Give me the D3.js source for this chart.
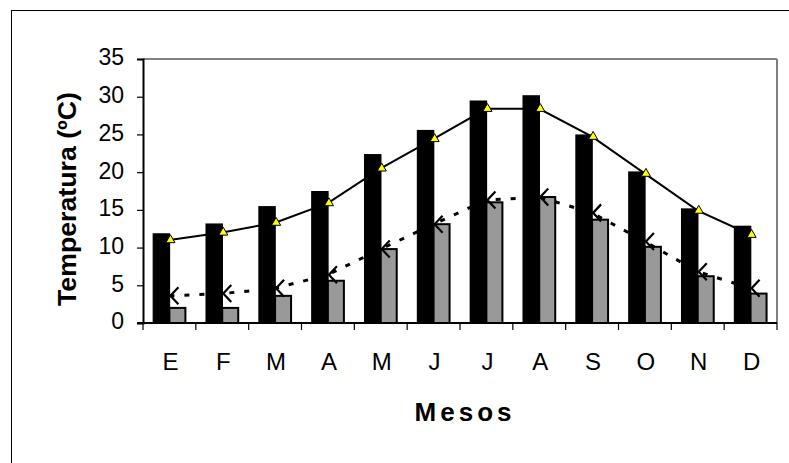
<!DOCTYPE html>
<html>
<head>
<meta charset="utf-8">
<script src="https://cdn.jsdelivr.net/npm/d3@7"></script>
<style>
	body { margin: 0; background: #fff; }
	text { font-family: "Liberation Sans", Arial, sans-serif; fill: #000; }
</style>
</head>
<body>
<svg id="chart" width="789" height="463"></svg>
<script>
// month initials (catalan)
var months = ['E','F','M','A','M','J','J','A','S','O','N','D'];
// bar series
var barMax = [11.8, 13.1, 15.4, 17.4, 22.3, 25.5, 29.4, 30.1, 24.9, 20.0, 15.1, 12.8];
var barMin = [2.0, 2.0, 3.6, 5.6, 9.8, 13.1, 16.0, 16.7, 13.7, 10.1, 6.2, 3.9];
// line series
var lineMax = [11.0, 12.0, 13.3, 15.9, 20.5, 24.4, 28.4, 28.4, 24.7, 19.8, 14.9, 11.7];
var lineMin = [3.6, 3.9, 4.6, 6.4, 9.8, 13.1, 16.3, 16.7, 14.6, 10.8, 6.8, 4.6];
var yTicks = [0, 5, 10, 15, 20, 25, 30, 35];

var svg = d3.select('#chart');
var pLeft = 143, pRight = 777, pTop = 59, pBottom = 323;

// outer frame
svg.append('rect').attr('x', 11.5).attr('y', 10.5).attr('width', 900).attr('height', 600)
	.attr('fill', 'none').attr('stroke', '#000').attr('stroke-width', 1);

var idx = d3.range(months.length);
var x = d3.scaleBand().domain(idx).range([pLeft, pRight]);
var xs = d3.scaleBand().domain(['max', 'min']).range([10.4, 42.4]);
var y = d3.scaleLinear().domain([0, 35]).range([pBottom, pTop]);

// plot area border (grey top and right)
svg.append('line').attr('x1', pLeft).attr('x2', pRight).attr('y1', pTop).attr('y2', pTop)
	.attr('stroke', '#808080').attr('stroke-width', 2);
svg.append('line').attr('x1', pRight).attr('x2', pRight).attr('y1', pTop).attr('y2', pBottom)
	.attr('stroke', '#808080').attr('stroke-width', 2);

// bars
svg.selectAll('rect.max').data(idx).enter().append('rect').attr('class', 'max')
	.attr('x', i => x(i) + xs('max')).attr('width', xs.bandwidth())
	.attr('y', i => y(barMax[i])).attr('height', i => y(0) - y(barMax[i]))
	.attr('fill', '#000').attr('stroke', '#000').attr('stroke-width', 1.5);
svg.selectAll('rect.min').data(idx).enter().append('rect').attr('class', 'min')
	.attr('x', i => x(i) + xs('min')).attr('width', xs.bandwidth())
	.attr('y', i => y(barMin[i])).attr('height', i => y(0) - y(barMin[i]))
	.attr('fill', '#999999').attr('stroke', '#000').attr('stroke-width', 2);

// axes
var yAxis = d3.axisLeft(y).tickValues(yTicks).tickSize(6).tickPadding(13);
var gy = svg.append('g').attr('transform', 'translate(' + pLeft + ',0)').call(yAxis);
gy.select('.domain').attr('stroke', '#000').attr('stroke-width', 2);
gy.selectAll('.tick line').attr('stroke', '#000').attr('stroke-width', 1.2);
gy.selectAll('.tick text').attr('font-size', 23).attr('dy', '0.26em')
	.style('font-family', '"Liberation Sans", Arial, sans-serif');

var gx = svg.append('g').attr('transform', 'translate(0,' + pBottom + ')');
gx.append('line').attr('x1', pLeft - 6).attr('x2', pRight).attr('y1', 0).attr('y2', 0)
	.attr('stroke', '#000').attr('stroke-width', 2);
gx.selectAll('line.tk').data(d3.range(months.length + 1)).enter().append('line').attr('class', 'tk')
	.attr('x1', i => pLeft + i * x.step()).attr('x2', i => pLeft + i * x.step())
	.attr('y1', 0).attr('y2', 7).attr('stroke', '#000').attr('stroke-width', 1.2);
gx.selectAll('text').data(idx).enter().append('text')
	.attr('x', i => x(i) + x.bandwidth() / 2 + 1).attr('y', 47)
	.attr('text-anchor', 'middle').attr('font-size', 24).text(i => months[i]);

// solid line with yellow triangles
var cx = i => x(i) + x.bandwidth() / 2;
var line1 = d3.line().x(cx).y(i => y(lineMax[i]));
svg.append('path').attr('d', line1(idx)).attr('fill', 'none').attr('stroke', '#000').attr('stroke-width', 2);
var tri = d3.symbol().type(d3.symbolTriangle).size(36);
svg.selectAll('path.tri').data(idx).enter().append('path').attr('class', 'tri')
	.attr('d', tri).attr('transform', i => 'translate(' + (cx(i) + 1) + ',' + y(lineMax[i]) + ')')
	.attr('fill', '#ffff00').attr('stroke', '#000').attr('stroke-width', 1);

// dotted line with < markers
var line2 = d3.line().x(cx).y(i => y(lineMin[i]));
svg.append('path').attr('d', line2(idx)).attr('fill', 'none').attr('stroke', '#000')
	.attr('stroke-width', 3).attr('stroke-dasharray', '5,10');
svg.selectAll('path.mk').data(idx).enter().append('path').attr('class', 'mk')
	.attr('d', 'M8,-8.5L0,0L8,8.5')
	.attr('transform', i => 'translate(' + (cx(i) + 1) + ',' + y(lineMin[i]) + ')')
	.attr('fill', 'none').attr('stroke', '#000').attr('stroke-width', 2.2);

// axis titles
svg.append('text').attr('transform', 'translate(76,199) rotate(-90)')
	.attr('text-anchor', 'middle').attr('font-size', 26).attr('font-weight', 'bold')
	.attr('textLength', 214).attr('lengthAdjust', 'spacingAndGlyphs')
	.text('Temperatura (ºC)');
svg.append('text').attr('x', 463).attr('y', 421)
	.attr('text-anchor', 'middle').attr('font-size', 26).attr('font-weight', 'bold')
	.attr('textLength', 97).attr('lengthAdjust', 'spacing')
	.text('Mesos');
</script>
</body>
</html>
